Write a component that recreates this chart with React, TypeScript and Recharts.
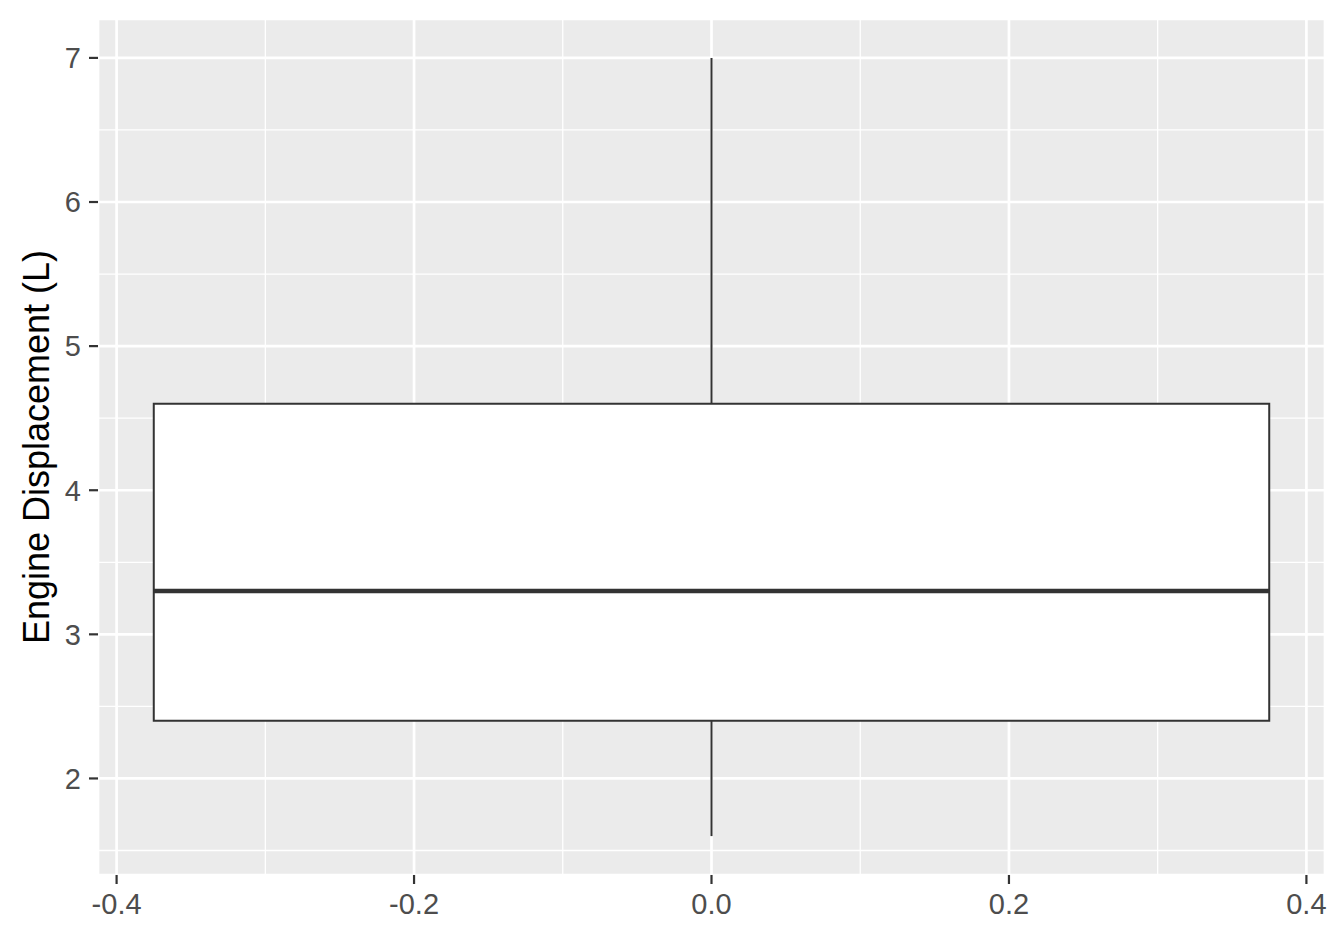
import { ComposedChart, Line, XAxis, YAxis, CartesianGrid, ReferenceArea, ReferenceLine } from 'recharts';

// five-number summary of engine displacement (L)
const boxStats = [1.6, 2.4, 3.3, 4.6, 7.0]; // min, q1, median, q3, max
const boxSpan = [-0.375, 0.375];

const xTicks = [-0.4, -0.2, 0, 0.2, 0.4];
const xMinor = [-0.3, -0.1, 0.1, 0.3];
const yTicks = [2, 3, 4, 5, 6, 7];
const yMinor = [1.5, 2.5, 3.5, 4.5, 5.5, 6.5];

const [yMin, q1, median, q3, yMax] = boxStats;
const yPad = (yMax - yMin) * 0.05;
const xPad = (boxSpan[1] - boxSpan[0]) * 0.05;

const lowerWhisker = [{ x: 0, y: yMin }, { x: 0, y: q1 }];
const upperWhisker = [{ x: 0, y: q3 }, { x: 0, y: yMax }];
const medianLine = [{ x: boxSpan[0], y: median }, { x: boxSpan[1], y: median }];

const FONT = '"Liberation Sans", Arial, sans-serif';
const tickStyle = { fill: '#4D4D4D', fontSize: 29, fontFamily: FONT };

const YTitle = ({ viewBox }: any) => {
  const cx = viewBox.x + 36;
  const cy = viewBox.y + viewBox.height / 2;
  return (
    <text
      x={cx}
      y={cy}
      transform={`rotate(-90 ${cx} ${cy})`}
      textAnchor="middle"
      dominantBaseline="central"
      fill="#000"
      fontSize={36}
      fontFamily={FONT}
    >
      Engine Displacement (L)
    </text>
  );
};

export default function App() {
  return (
    <div style={{ position: 'absolute', left: 0, top: 0, background: '#fff' }}>
      <ComposedChart width={1344} height={940} margin={{ top: 19, right: 19, left: 0, bottom: 0 }}>
        <CartesianGrid fill="#EBEBEB" stroke="#fff" strokeWidth={2.7} />
        {xMinor.map((v) => (
          <ReferenceLine key={`xm${v}`} x={v} stroke="#fff" strokeWidth={1.3} zIndex={-60} />
        ))}
        {yMinor.map((v) => (
          <ReferenceLine key={`ym${v}`} y={v} stroke="#fff" strokeWidth={1.3} zIndex={-60} />
        ))}
        <XAxis
          type="number"
          dataKey="x"
          domain={[boxSpan[0] - xPad, boxSpan[1] + xPad]}
          ticks={xTicks}
          allowDataOverflow
          tickFormatter={(v) => v.toFixed(1)}
          axisLine={false}
          tickSize={9}
          tickMargin={9}
          tickLine={{ stroke: '#333', strokeWidth: 2.2 }}
          tick={tickStyle}
          height={65}
        />
        <YAxis
          type="number"
          dataKey="y"
          domain={[yMin - yPad, yMax + yPad]}
          ticks={yTicks}
          allowDataOverflow
          axisLine={false}
          tickSize={9}
          tickMargin={8}
          tickLine={{ stroke: '#333', strokeWidth: 2.2 }}
          tick={tickStyle}
          width={98}
          label={<YTitle />}
        />
        <ReferenceArea
          x1={boxSpan[0]}
          x2={boxSpan[1]}
          y1={q1}
          y2={q3}
          fill="#fff"
          fillOpacity={1}
          stroke="#333"
          strokeWidth={2}
          zIndex={50}
        />
        <Line data={lowerWhisker} dataKey="y" stroke="#333" strokeWidth={2} dot={false} isAnimationActive={false} />
        <Line data={upperWhisker} dataKey="y" stroke="#333" strokeWidth={2} dot={false} isAnimationActive={false} />
        <Line data={medianLine} dataKey="y" stroke="#333" strokeWidth={4.5} dot={false} isAnimationActive={false} />
      </ComposedChart>
    </div>
  );
}
